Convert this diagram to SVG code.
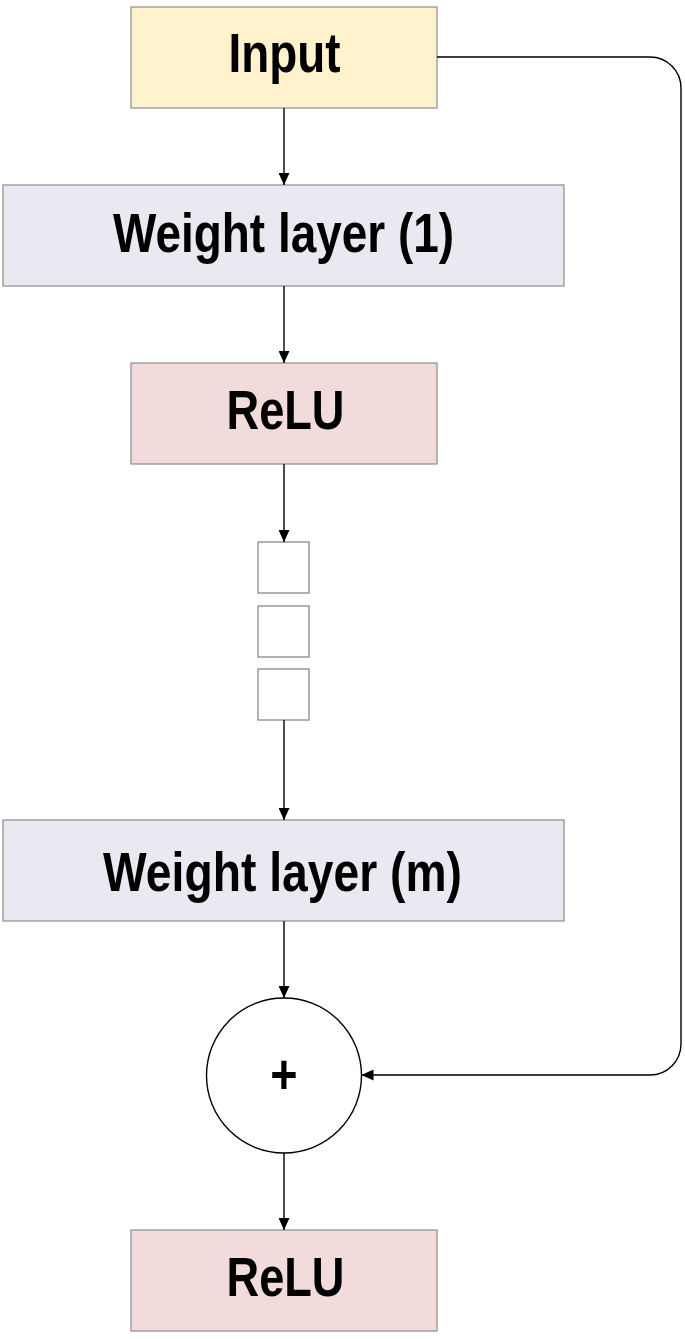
<svg xmlns="http://www.w3.org/2000/svg" width="685" height="1339" viewBox="0 0 685 1339">
<style>
.box{stroke:#8c8c8c;stroke-width:1.2}
.inp{fill:#fff2cc}
.wl{fill:#eae8f0}
.relu{fill:#f2dcdb}
.sq{fill:#ffffff;stroke:#7f7f7f;stroke-width:1.2}
.lbl{font-family:"Liberation Sans",Arial,sans-serif;font-weight:bold;font-size:55px;fill:#000;text-anchor:middle}
.edge{fill:none;stroke:#000;stroke-width:1.4}
</style>
<defs>
<marker id="arr" viewBox="0 0 12 11" refX="12" refY="5.5" markerWidth="12" markerHeight="11" markerUnits="userSpaceOnUse" orient="auto">
<path d="M0,0 L12,5.5 L0,11 Z" fill="#000"/>
</marker>
</defs>
<rect width="685" height="1339" fill="#ffffff"/>
<g id="input">
<rect class="box inp" x="131" y="7" width="306" height="101"/>
<text class="lbl" x="284.5" y="72" textLength="112" lengthAdjust="spacingAndGlyphs">Input</text>
</g>
<g id="weight1">
<rect class="box wl" x="3" y="185" width="561" height="101"/>
<text class="lbl" x="283.5" y="252" textLength="341" lengthAdjust="spacingAndGlyphs">Weight layer (1)</text>
</g>
<g id="relu1">
<rect class="box relu" x="131" y="363" width="306" height="101"/>
<text class="lbl" x="285.5" y="429" textLength="118" lengthAdjust="spacingAndGlyphs">ReLU</text>
</g>
<g id="sq1"><rect class="sq" x="258" y="542" width="51" height="51"/></g>
<g id="sq2"><rect class="sq" x="258" y="606" width="51" height="51"/></g>
<g id="sq3"><rect class="sq" x="258" y="669" width="51" height="51"/></g>
<g id="weightm">
<rect class="box wl" x="3" y="820" width="561" height="101"/>
<text class="lbl" x="282.5" y="891" textLength="359" lengthAdjust="spacingAndGlyphs">Weight layer (m)</text>
</g>
<g id="sum">
<circle cx="284" cy="1075.5" r="77.5" fill="#ffffff" stroke="#000" stroke-width="1.4"/>
<text class="lbl" x="284" y="1093" font-size="54" transform="translate(284,0) scale(0.85,1) translate(-284,0)">+</text>
</g>
<g id="relu2">
<rect class="box relu" x="131" y="1230" width="306" height="101"/>
<text class="lbl" x="285.5" y="1296" textLength="118" lengthAdjust="spacingAndGlyphs">ReLU</text>
</g>
<g id="connectors">
<path class="edge" d="M284,108 V185" marker-end="url(#arr)"/>
<path class="edge" d="M284,286 V363" marker-end="url(#arr)"/>
<path class="edge" d="M284,464 V542" marker-end="url(#arr)"/>
<path class="edge" d="M284,720 V820" marker-end="url(#arr)"/>
<path class="edge" d="M284,921 V998" marker-end="url(#arr)"/>
<path class="edge" d="M284,1153 V1230" marker-end="url(#arr)"/>
<path class="edge" d="M437,57 H650 A31,31 0 0 1 681,88 V1044 A31,31 0 0 1 650,1075 H361.5" marker-end="url(#arr)"/>
</g>
</svg>
